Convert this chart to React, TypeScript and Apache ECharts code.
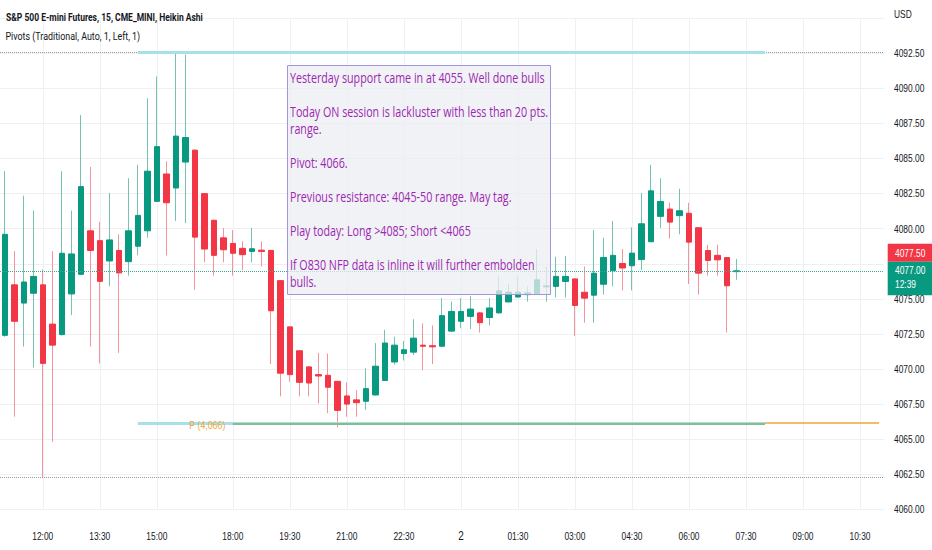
import React, { useEffect, useRef } from 'react';
import * as echarts from 'echarts';

// ---- categories (15-minute bars, CME session break 17:00-18:00) ----
const categories = [
  '11:00','11:15','11:30','11:45','12:00','12:15','12:30','12:45','13:00','13:15','13:30','13:45',
  '14:00','14:15','14:30','14:45','15:00','15:15','15:30','15:45','16:00','16:15','16:30','16:45',
  '18:00','18:15','18:30','18:45','19:00','19:15','19:30','19:45','20:00','20:15','20:30','20:45',
  '21:00','21:15','21:30','21:45','22:00','22:15','22:30','22:45','23:00','23:15','23:30','23:45',
  '00:00','00:15','00:30','00:45','01:00','01:15','01:30','01:45','02:00','02:15','02:30','02:45',
  '03:00','03:15','03:30','03:45','04:00','04:15','04:30','04:45','05:00','05:15','05:30','05:45',
  '06:00','06:15','06:30','06:45','07:00','07:15','07:30','07:45','08:00','08:15','08:30','08:45',
  '09:00','09:15','09:30','09:45','10:00','10:15','10:30','10:45','11:00'
];
const timeTicks = ['12:00','13:30','15:00','18:00','19:30','21:00','22:30','00:00','01:30','03:00','04:30','06:00','07:30','09:00','10:30'];
const yTicks = [4060, 4062.5, 4065, 4067.5, 4070, 4072.5, 4075, 4077.5, 4080, 4082.5, 4085, 4087.5, 4090, 4092.5, 4095];

// ---- Heikin Ashi values ----
const haOpen = [
  4072.4, 4076.0, 4074.7, 4075.4, 4076.0, 4073.2, 4072.45, 4075.35, 4076.75, 4079.85,
  4079.15, 4077.7, 4078.45, 4077.65, 4078.75, 4079.85, 4081.95, 4083.9, 4082.9, 4084.75,
  4085.6, 4082.5, 4080.6, 4079.35, 4078.95, 4078.6, 4078.38, 4078.47, 4078.45, 4076.3,
  4073.0, 4071.3, 4070.15, 4069.6, 4069.55, 4069.12, 4068.08, 4067.8, 4067.7, 4068.15,
  4069.18, 4070.5, 4071.1, 4071.2, 4071.7, 4071.66, 4071.62, 4072.7, 4073.4, 4073.75,
  4074.0, 4073.67, 4074.0, 4074.78, 4075.13, 4075.3, 4075.36, 4075.86, 4075.89, 4076.24,
  4076.42, 4075.47, 4075.26, 4076.04, 4077.0, 4077.52, 4077.36, 4077.8, 4079.07, 4080.88,
  4081.4, 4080.93, 4081.1, 4080.07, 4078.45, 4078.1, 4077.94, 4076.94
];
const haClose = [
  4079.6, 4073.4, 4076.2, 4076.6, 4070.4, 4071.7, 4078.25, 4078.2, 4083.0, 4078.45,
  4076.25, 4079.2, 4076.85, 4079.85, 4080.95, 4084.1, 4085.85, 4081.85, 4086.6, 4086.5,
  4079.4, 4078.55, 4078.1, 4078.5, 4078.25, 4078.15, 4078.57, 4078.38, 4074.15, 4069.7,
  4069.6, 4069.05, 4069.0, 4069.5, 4068.7, 4067.05, 4067.5, 4067.6, 4068.6, 4070.2,
  4071.85, 4071.7, 4071.37, 4072.2, 4071.62, 4071.58, 4073.8, 4074.1, 4074.1, 4074.27,
  4073.3, 4074.35, 4075.57, 4075.48, 4075.48, 4075.42, 4076.36, 4075.92, 4076.6, 4076.6,
  4074.53, 4075.05, 4076.83, 4077.95, 4078.1, 4077.2, 4078.26, 4080.35, 4082.7, 4081.94,
  4080.47, 4081.28, 4079.04, 4076.83, 4077.74, 4077.78, 4075.93, 4077.0
];
const haLow = [
  4072.3, 4066.6, 4071.6, 4070.1, 4062.3, 4064.8, 4072.4, 4073.85, 4076.7, 4071.6,
  4070.4, 4075.9, 4071.15, 4076.65, 4078.1, 4079.35, 4081.9, 4078.1, 4080.55, 4080.4,
  4075.65, 4077.6, 4076.65, 4077.6, 4076.65, 4077.05, 4077.6, 4077.3, 4070.35, 4068.05,
  4069.1, 4068.05, 4068.05, 4067.55, 4066.85, 4065.85, 4066.6, 4066.6, 4067.1, 4068.1,
  4069.15, 4070.3, 4070.6, 4071.0, 4069.9, 4070.35, 4071.6, 4072.65, 4072.9, 4072.85,
  4072.6, 4073.1, 4073.95, 4074.75, 4075.1, 4074.8, 4075.3, 4074.8, 4075.1, 4075.1,
  4072.35, 4073.3, 4073.3, 4075.3, 4075.9, 4075.6, 4075.6, 4077.05, 4079.05, 4080.05,
  4079.3, 4079.6, 4076.05, 4075.3, 4076.65, 4076.65, 4072.6, 4076.36
];
const haHigh = [
  4084.1, 4078.4, 4082.35, 4081.3, 4077.1, 4078.4, 4084.1, 4081.3, 4088.1, 4084.4,
  4080.5, 4082.55, 4079.6, 4083.6, 4084.55, 4089.3, 4090.85, 4084.8, 4092.55, 4092.4,
  4085.65, 4082.55, 4080.65, 4080.05, 4079.9, 4079.1, 4080.05, 4079.1, 4078.5, 4076.35,
  4073.05, 4071.3, 4070.2, 4071.15, 4071.1, 4069.15, 4069.05, 4068.5, 4070.05, 4071.85,
  4072.8, 4072.3, 4072.0, 4073.55, 4073.25, 4073.1, 4075.05, 4074.8, 4075.05, 4075.2,
  4074.05, 4075.05, 4076.6, 4076.05, 4076.6, 4075.9, 4078.55, 4077.3, 4078.0, 4078.05,
  4076.45, 4077.3, 4079.9, 4079.35, 4080.55, 4078.55, 4080.1, 4082.55, 4084.55, 4083.6,
  4081.85, 4082.85, 4081.85, 4080.1, 4078.85, 4078.85, 4077.97, 4077.85
];

// ---- pivot levels: [level, fromIndex, toIndex] ----
const pivotPrevR = [4092.6, 14, 80];
const pivotPrevP = [4066.1, 14, 80];
const pivotSession = [4066.08, 24, 80];
const pivotToday = [4066.15, 80, 92];
const pivotLabelIndex = 21;
const priceTag = 4077.5;
const countdown = '12:39';

const UP = '#089981';
const DOWN = '#f23645';
const WICK_UP = '#78c2b2';
const WICK_DOWN = '#f4939b';
const GRID = '#eef0f3';
const TXT = '#131722';
const FONT = "'Liberation Sans', Arimo, Arial, sans-serif";
const SX = 0.8;

const noteLines = [
  'Yesterday support came in at 4055. Well done bulls',
  '',
  'Today ON session is lackluster with less than 20 pts.',
  'range.',
  '',
  'Pivot: 4066.',
  '',
  'Previous resistance: 4045-50 range. May tag.',
  '',
  'Play today: Long >4085; Short <4065',
  '',
  'If O830 NFP data is inline it will further embolden',
  'bulls.'
];

function fitScale(text: string, font: string, target: number): number {
  const c = document.createElement('canvas').getContext('2d');
  if (!c) return 1;
  c.font = font;
  const w = c.measureText(text).width;
  return w > 0 ? target / w : 1;
}

export default function App() {
  const ref = useRef<HTMLDivElement>(null);

  useEffect(() => {
    if (!ref.current) return;
    const chart = echarts.init(ref.current, null, { renderer: 'svg', width: 932, height: 550 });

    const wickData = haOpen.map((o, i) => [o, haClose[i], haLow[i], haHigh[i]]);
    const bodyData = haOpen.map((o, i) => {
      const c = haClose[i];
      return [o, c, Math.min(o, c), Math.max(o, c)];
    });
    const hi = Math.max(...haHigh);
    const lo = Math.min(...haLow);
    const last = haClose[haClose.length - 1];

    const seg = (p: number[], color: string, width: number) => [
      { coord: [p[1], p[0]], lineStyle: { color, width, type: 'solid' } },
      { coord: [p[2], p[0]] }
    ];

    chart.setOption({
      animation: false,
      backgroundColor: '#ffffff',
      grid: { left: -3.7, right: 48.2, top: 18.25, bottom: 40.7, containLabel: false },
      xAxis: {
        type: 'category',
        data: categories,
        boundaryGap: true,
        axisLine: { show: false },
        axisTick: { show: false },
        splitLine: { show: false },
        axisLabel: { show: false }
      },
      yAxis: {
        type: 'value',
        position: 'right',
        min: yTicks[0],
        max: yTicks[yTicks.length - 1],
        interval: 2.5,
        axisLine: { show: false },
        axisTick: { show: false },
        splitLine: { show: true, lineStyle: { color: GRID, width: 1 } },
        axisLabel: { show: false }
      },
      series: [
        {
          type: 'candlestick',
          name: 'wicks',
          data: wickData,
          barWidth: 1,
          z: 3,
          silent: true,
          itemStyle: {
            color: 'transparent',
            color0: 'transparent',
            borderColor: WICK_UP,
            borderColor0: WICK_DOWN,
            borderWidth: 1
          },
          markLine: {
            silent: true,
            animation: false,
            z: 0,
            symbol: ['none', 'none'],
            label: { show: false },
            lineStyle: { color: GRID, width: 1, type: 'solid' },
            data: timeTicks.map((t) => ({ xAxis: categories.indexOf(t) }))
          }
        },
        {
          type: 'candlestick',
          name: 'bodies',
          data: bodyData,
          barWidth: 6,
          z: 4,
          silent: true,
          itemStyle: {
            color: UP,
            color0: DOWN,
            borderColor: UP,
            borderColor0: DOWN,
            borderWidth: 1
          },
          markLine: {
            silent: true,
            animation: false,
            z: 5,
            symbol: ['none', 'none'],
            label: { show: false },
            data: [
              { yAxis: hi, lineStyle: { color: '#9598a1', width: 1, type: 'dotted' } },
              { yAxis: lo, lineStyle: { color: '#9598a1', width: 1, type: 'dotted' } },
              seg(pivotPrevR, '#a6e0e8', 3),
              seg(pivotPrevP, '#a6e0e8', 3),
              seg(pivotSession, '#78b276', 1.5),
              seg(pivotToday, '#f3a536', 1.5),
              { yAxis: last, lineStyle: { color: '#3aa892', width: 1, type: 'dotted' } }
            ]
          }
        }
      ]
    });

    // overlay texts, axis labels and price tags, placed through the axes
    const yLast = chart.convertToPixel({ yAxisIndex: 0 }, last) as number;
    const titleText = 'S&P 500 E-mini Futures, 15, CME_MINI, Heikin Ashi';
    const subText = 'Pivots (Traditional, Auto, 1, Left, 1)';
    const sTitle = fitScale(titleText, 'bold 11.5px Roboto', 197);
    const sSub = fitScale(subText, '11.5px Roboto', 135);
    const sNote = fitScale(noteLines[0], '15px "Open Sans"', 255);

    const graphics: any[] = [];

    // y-axis labels
    yTicks.forEach((v) => {
      if (Math.abs(v - last) < 1.2) return; // hidden under the price tag
      const y = chart.convertToPixel({ yAxisIndex: 0 }, v) as number;
      const isTop = v === yTicks[yTicks.length - 1];
      graphics.push({
        type: 'text', x: 894, y: isTop ? y - 4 : y, scaleX: SX, z: 8, silent: true,
        style: { text: isTop ? 'USD' : v.toFixed(2), fill: TXT, fontSize: 10.5, fontFamily: FONT, verticalAlign: 'middle', align: 'left' }
      });
    });

    // x-axis labels
    timeTicks.forEach((t) => {
      const x = chart.convertToPixel({ xAxisIndex: 0 }, categories.indexOf(t)) as number;
      const isDay = t === '00:00';
      graphics.push({
        type: 'text', x, y: 536, scaleX: SX, z: 8, silent: true,
        style: { text: isDay ? '2' : t, fill: TXT, fontSize: isDay ? 12.5 : 10.5, fontFamily: FONT, verticalAlign: 'middle', align: 'center' }
      });
    });

    // pivot label
    const pPt = chart.convertToPixel({ xAxisIndex: 0, yAxisIndex: 0 }, [pivotLabelIndex, pivotPrevP[0]]) as number[];
    graphics.push({
      type: 'text', x: pPt[0] + 3, y: pPt[1] + 1.5, scaleX: SX, z: 9, silent: true,
      style: { text: 'P (' + Math.round(pivotPrevP[0]).toLocaleString('en-US') + ')', fill: '#f3a536', fontSize: 11, fontFamily: FONT, verticalAlign: 'middle', align: 'center' }
    });

    graphics.push(
      {
        type: 'text', x: 6, y: 17, scaleX: sTitle, z: 20,
        style: { text: titleText, fill: TXT, fontSize: 11.5, fontWeight: 'bold', fontFamily: 'Roboto', verticalAlign: 'middle', align: 'left' }
      },
      {
        type: 'text', x: 5.5, y: 36, scaleX: sSub, z: 20,
        style: { text: subText, fill: TXT, fontSize: 11.5, fontFamily: 'Roboto', verticalAlign: 'middle', align: 'left' }
      },
      {
        type: 'rect', z: 10, silent: true,
        shape: { x: 287.5, y: 65.5, width: 263, height: 229 },
        style: { fill: 'rgba(236,237,243,0.75)', stroke: '#a395dc', lineWidth: 1 }
      },
      {
        type: 'text', x: 290, y: 69.2, scaleX: sNote, z: 11,
        style: { text: noteLines.join('\n'), fill: '#9c27b0', fontSize: 15, fontFamily: 'Open Sans', lineHeight: 17, verticalAlign: 'top', align: 'left' }
      },
      {
        type: 'rect', z: 12,
        shape: { x: 887.7, y: yLast - 27, width: 45, height: 18 },
        style: { fill: DOWN }
      },
      {
        type: 'text', x: 895, y: yLast - 17.8, scaleX: SX, z: 13,
        style: { text: priceTag.toFixed(2), fill: '#ffffff', fontSize: 10.5, fontFamily: FONT, verticalAlign: 'middle', align: 'left' }
      },
      {
        type: 'rect', z: 12,
        shape: { x: 887.7, y: yLast - 9, width: 45, height: 33.5 },
        style: { fill: UP }
      },
      {
        type: 'text', x: 895, y: yLast - 0.8, scaleX: SX, z: 13,
        style: { text: last.toFixed(2), fill: '#ffffff', fontSize: 10.5, fontFamily: FONT, verticalAlign: 'middle', align: 'left' }
      },
      {
        type: 'text', x: 895, y: yLast + 13.2, scaleX: SX, z: 13,
        style: { text: countdown, fill: '#ffffff', fontSize: 10.5, fontFamily: FONT, verticalAlign: 'middle', align: 'left' }
      }
    );

    chart.setOption({ graphic: graphics });

    return () => chart.dispose();
  }, []);

  return (
    <div
      ref={ref}
      style={{ position: 'fixed', left: 0, top: 0, width: 932, height: 550, background: '#ffffff' }}
    />
  );
}
